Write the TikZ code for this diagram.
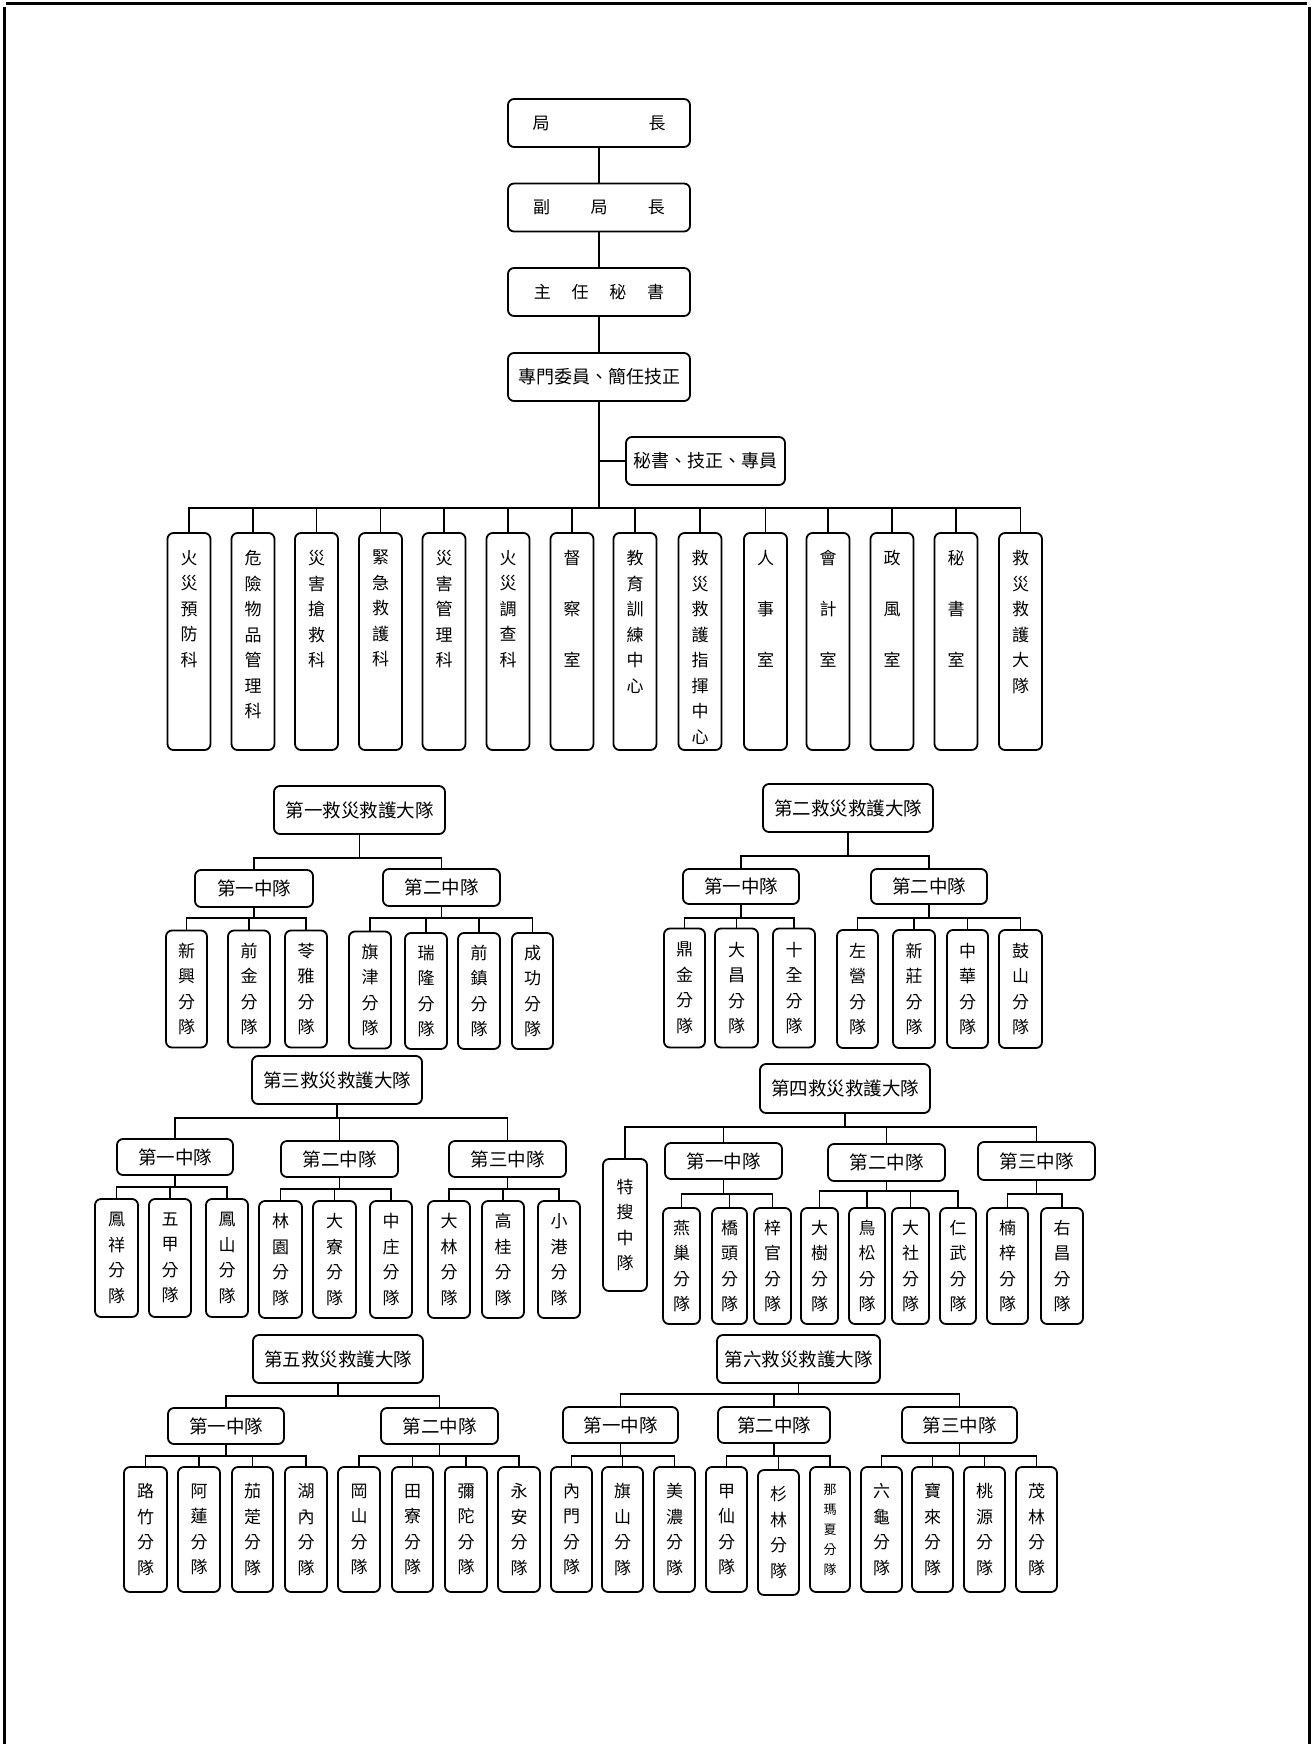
\documentclass[tikz,border=0pt]{standalone}
\usepackage{fontspec}
\setmainfont{Noto Sans CJK TC}
\usetikzlibrary{calc}
\newcommand\kid[6]{\node[vb, minimum width=#4pt, minimum height=#5pt] (#1) at (#2,#3) {#6};}
\newcommand\fan[3]{\coordinate (#1j) at (#1.south |- 0,#2); \draw[conn] (#1.south) -- (#1j); \foreach \cc in {#3} {\draw[conn] (#1j) -| (\cc.north);}}
\newcommand\dept[3]{\node[box, minimum width=43pt, minimum height=217pt] (#1) at (#2,641.5) {}; \node[vt, anchor=north] (#1t) at ([yshift=-18pt]#1.north) {#3};}
\begin{document}
\begin{tikzpicture}[x=1pt,y=-1pt,
  conn/.style={line width=1.8pt},
  box/.style={draw, line width=1.8pt, rounded corners=6pt, inner sep=0pt, align=center},
  hb/.style={box, font=\fontsize{18.5pt}{22pt}\selectfont},
  tb/.style={box, font=\fontsize{17pt}{22pt}\selectfont, minimum width=182pt, minimum height=48pt},
  vt/.style={align=center, inner sep=0pt, font=\fontsize{17pt}{25.5pt}\selectfont},
  vb/.style={box, font=\fontsize{17pt}{25.5pt}\selectfont},
  frame/.style={line width=3pt}]
\useasboundingbox (0,0) rectangle (1312,1744);
\draw[frame] (6,4) -- (1307,4);
\draw[frame] (4,7) -- (4,1744);
\draw[frame] (1309,7) -- (1309,1744);

% top chain
\node[tb] (chief) at (599,123) {局\hspace{99pt}長};
\node[tb] (deputy) at (599,207.5) {副\hspace{40.5pt}局\hspace{40.5pt}長};
\node[tb] (secgen) at (599,292) {主\hspace{20.7pt}任\hspace{20.7pt}秘\hspace{20.7pt}書};
\node[hb, minimum width=182pt, minimum height=48pt, font=\fontsize{18pt}{22pt}\selectfont] (spec) at (599,377) {專門委員、簡任技正};
\node[hb, minimum width=159pt, minimum height=48pt, font=\fontsize{18pt}{22pt}\selectfont] (aide) at (705.5,461) {秘書、技正、專員};
\draw[conn] (chief) -- (deputy) -- (secgen) -- (spec);
\coordinate (dj) at (599,508);
\draw[conn] (spec.south) -- (dj);
\draw[conn] (aide.west) -- (aide.west -| spec.south);

% departments
\dept{d1}{189}{火\\災\\預\\防\\科}
\dept{d2}{253}{危\\險\\物\\品\\管\\理\\科}
\dept{d3}{316.5}{災\\害\\搶\\救\\科}
\dept{d4}{380.5}{緊\\急\\救\\護\\科}
\dept{d5}{444}{災\\害\\管\\理\\科}
\dept{d6}{508}{火\\災\\調\\查\\科}
\dept{d7}{572}{督\\[25.5pt]察\\[25.5pt]室}
\dept{d8}{635}{教\\育\\訓\\練\\中\\心}
\dept{d9}{700}{救\\災\\救\\護\\指\\揮\\中\\心}
\dept{d10}{765.5}{人\\[25.5pt]事\\[25.5pt]室}
\dept{d11}{828}{會\\[25.5pt]計\\[25.5pt]室}
\dept{d12}{892}{政\\[25.5pt]風\\[25.5pt]室}
\dept{d13}{956}{秘\\[25.5pt]書\\[25.5pt]室}
\dept{d14}{1020.5}{救\\災\\救\\護\\大\\隊}
\foreach \nn in {d1,d2,d3,d4,d5,d6,d7,d8,d9,d10,d11,d12,d13,d14} {\draw[conn] (dj) -| (\nn.north);}

% group 1
\node[hb, minimum width=171pt, minimum height=48pt] (g1) at (359.5,810) {第一救災救護大隊};
\node[hb, minimum width=118pt, minimum height=37pt] (g1a) at (254,888.5) {第一中隊};
\node[hb, minimum width=117pt, minimum height=37pt] (g1b) at (441.5,887.5) {第二中隊};
\kid{g1a1}{186.5}{989}{41}{117}{新\\興\\分\\隊}
\kid{g1a2}{249}{989}{42}{117}{前\\金\\分\\隊}
\kid{g1a3}{306}{989}{42}{117}{苓\\雅\\分\\隊}
\kid{g1b1}{370}{990}{42}{117}{旗\\津\\分\\隊}
\kid{g1b2}{426}{991}{42}{116}{瑞\\隆\\分\\隊}
\kid{g1b3}{479}{991}{42}{116}{前\\鎮\\分\\隊}
\kid{g1b4}{532.5}{991}{41}{116}{成\\功\\分\\隊}
\fan{g1}{858}{g1a,g1b}
\fan{g1a}{918}{g1a1,g1a2,g1a3}
\fan{g1b}{918}{g1b1,g1b2,g1b3,g1b4}

% group 2
\node[hb, minimum width=170pt, minimum height=48pt] (g2) at (848,808) {第二救災救護大隊};
\node[hb, minimum width=116pt, minimum height=35pt] (g2a) at (741,886.5) {第一中隊};
\node[hb, minimum width=116pt, minimum height=35pt] (g2b) at (929,886.5) {第二中隊};
\kid{g2a1}{684.5}{988}{41}{119}{鼎\\金\\分\\隊}
\kid{g2a2}{736.5}{988}{43}{119}{大\\昌\\分\\隊}
\kid{g2a3}{794}{988}{42}{119}{十\\全\\分\\隊}
\kid{g2b1}{857.5}{989}{41}{118}{左\\營\\分\\隊}
\kid{g2b2}{914}{989}{42}{118}{新\\莊\\分\\隊}
\kid{g2b3}{967.5}{989}{41}{118}{中\\華\\分\\隊}
\kid{g2b4}{1020.5}{989}{43}{118}{鼓\\山\\分\\隊}
\fan{g2}{856}{g2a,g2b}
\fan{g2a}{918}{g2a1,g2a2,g2a3}
\fan{g2b}{918}{g2b1,g2b2,g2b3,g2b4}

% group 3
\node[hb, minimum width=170pt, minimum height=48pt] (g3) at (337,1080) {第三救災救護大隊};
\node[hb, minimum width=116pt, minimum height=36pt] (g3a) at (175,1157) {第一中隊};
\node[hb, minimum width=117pt, minimum height=36pt] (g3b) at (339.5,1159) {第二中隊};
\node[hb, minimum width=117pt, minimum height=36pt] (g3c) at (507.5,1159) {第三中隊};
\kid{g3a1}{116.5}{1258}{43}{118}{鳳\\祥\\分\\隊}
\kid{g3a2}{170}{1258}{42}{118}{五\\甲\\分\\隊}
\kid{g3a3}{227}{1258}{42}{118}{鳳\\山\\分\\隊}
\kid{g3b1}{280.5}{1259.5}{43}{117}{林\\園\\分\\隊}
\kid{g3b2}{334.5}{1259.5}{43}{117}{大\\寮\\分\\隊}
\kid{g3b3}{391}{1259.5}{42}{117}{中\\庄\\分\\隊}
\kid{g3c1}{449}{1259.5}{42}{117}{大\\林\\分\\隊}
\kid{g3c2}{503}{1259.5}{42}{117}{高\\桂\\分\\隊}
\kid{g3c3}{559}{1259.5}{42}{117}{小\\港\\分\\隊}
\fan{g3}{1118}{g3a,g3b,g3c}
\fan{g3a}{1187}{g3a1,g3a2,g3a3}
\fan{g3b}{1189}{g3b1,g3b2,g3b3}
\fan{g3c}{1189}{g3c1,g3c2,g3c3}

% group 4
\node[hb, minimum width=170pt, minimum height=49pt] (g4) at (845,1088.5) {第四救災救護大隊};
\kid{g4s}{625}{1225}{44}{132}{特\\搜\\中\\隊}
\node[hb, minimum width=117pt, minimum height=36pt] (g4a) at (723.5,1161) {第一中隊};
\node[hb, minimum width=117pt, minimum height=37pt] (g4b) at (886.5,1162.5) {第二中隊};
\node[hb, minimum width=117pt, minimum height=38pt] (g4c) at (1036.5,1161) {第三中隊};
\kid{g4a1}{681.5}{1266}{37}{116}{燕\\巢\\分\\隊}
\kid{g4a2}{729.5}{1266}{35}{116}{橋\\頭\\分\\隊}
\kid{g4a3}{772.5}{1266}{37}{116}{梓\\官\\分\\隊}
\kid{g4b1}{819.5}{1266}{37}{116}{大\\樹\\分\\隊}
\kid{g4b2}{867}{1266}{36}{116}{鳥\\松\\分\\隊}
\kid{g4b3}{910.5}{1266}{37}{116}{大\\社\\分\\隊}
\kid{g4b4}{958}{1266}{36}{116}{仁\\武\\分\\隊}
\kid{g4c1}{1007.5}{1266}{41}{116}{楠\\梓\\分\\隊}
\kid{g4c2}{1062}{1266}{42}{116}{右\\昌\\分\\隊}
\fan{g4}{1127}{g4s,g4a,g4b,g4c}
\fan{g4a}{1194}{g4a1,g4a2,g4a3}
\fan{g4b}{1191}{g4b1,g4b2,g4b3,g4b4}
\fan{g4c}{1194}{g4c1,g4c2}

% group 5
\node[hb, minimum width=170pt, minimum height=48pt] (g5) at (338,1359) {第五救災救護大隊};
\node[hb, minimum width=116pt, minimum height=36pt] (g5a) at (226,1426) {第一中隊};
\node[hb, minimum width=117pt, minimum height=36pt] (g5b) at (439.5,1426) {第二中隊};
\kid{g5a1}{145.5}{1529.5}{43}{125}{路\\竹\\分\\隊}
\kid{g5a2}{199}{1529.5}{42}{125}{阿\\蓮\\分\\隊}
\kid{g5a3}{252.5}{1529.5}{41}{125}{茄\\萣\\分\\隊}
\kid{g5a4}{306}{1529.5}{42}{125}{湖\\內\\分\\隊}
\kid{g5b1}{359}{1529.5}{42}{125}{岡\\山\\分\\隊}
\kid{g5b2}{412.5}{1529.5}{41}{125}{田\\寮\\分\\隊}
\kid{g5b3}{466}{1529.5}{42}{125}{彌\\陀\\分\\隊}
\kid{g5b4}{519}{1529.5}{42}{125}{永\\安\\分\\隊}
\fan{g5}{1396}{g5a,g5b}
\fan{g5a}{1456}{g5a1,g5a2,g5a3,g5a4}
\fan{g5b}{1456}{g5b1,g5b2,g5b3,g5b4}

% group 6
\node[hb, minimum width=163pt, minimum height=48pt] (g6) at (798.5,1359) {第六救災救護大隊};
\node[hb, minimum width=115pt, minimum height=36pt] (g6a) at (620.5,1425) {第一中隊};
\node[hb, minimum width=112pt, minimum height=36pt] (g6b) at (774,1425) {第二中隊};
\node[hb, minimum width=115pt, minimum height=36pt] (g6c) at (959.5,1425) {第三中隊};
\kid{g6a1}{571.5}{1529.5}{41}{125}{內\\門\\分\\隊}
\kid{g6a2}{622.5}{1529.5}{41}{125}{旗\\山\\分\\隊}
\kid{g6a3}{674.5}{1529.5}{41}{125}{美\\濃\\分\\隊}
\kid{g6b1}{726.5}{1529.5}{41}{125}{甲\\仙\\分\\隊}
\kid{g6b2}{778.5}{1532.5}{41}{125}{杉\\林\\分\\隊}
\node[box, minimum width=40pt, minimum height=125pt, font=\fontsize{13pt}{20pt}\selectfont] (g6b3) at (830,1529.5) {那\\瑪\\夏\\分\\隊};
\kid{g6c1}{881.5}{1529.5}{41}{125}{六\\龜\\分\\隊}
\kid{g6c2}{932.5}{1529.5}{41}{125}{寶\\來\\分\\隊}
\kid{g6c3}{984.5}{1529.5}{41}{125}{桃\\源\\分\\隊}
\kid{g6c4}{1036.5}{1529.5}{41}{125}{茂\\林\\分\\隊}
\fan{g6}{1394}{g6a,g6b,g6c}
\fan{g6a}{1456}{g6a1,g6a2,g6a3}
\fan{g6b}{1456}{g6b1,g6b2,g6b3}
\fan{g6c}{1456}{g6c1,g6c2,g6c3,g6c4}
\end{tikzpicture}
\end{document}
